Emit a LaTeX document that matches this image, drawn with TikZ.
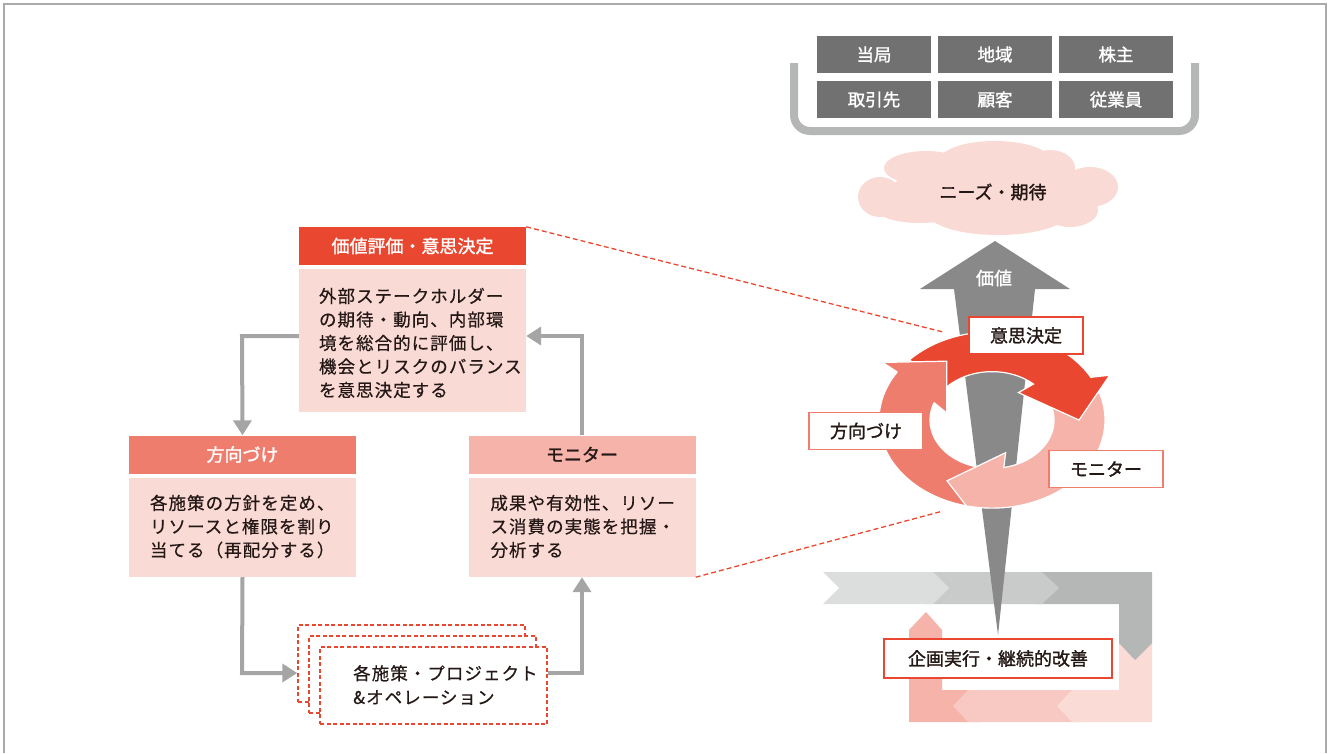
\documentclass[tikz,border=0pt]{standalone}
\usepackage{fontspec}
\setmainfont{Noto Sans CJK JP}
\newfontfamily\spacedfont[LetterSpace=6,FakeBold=0.5]{Noto Sans CJK JP}
\newfontfamily\medfont[FakeBold=1.4]{Noto Sans CJK JP}
\usetikzlibrary{arrows.meta,calc}
\definecolor{redc}{HTML}{E9472F}
\definecolor{salmonc}{HTML}{EF7D6E}
\definecolor{lpinkc}{HTML}{F6B3AA}
\definecolor{bodypink}{HTML}{FADAD5}
\definecolor{shaftgray}{HTML}{898989}
\definecolor{shgray}{HTML}{717171}
\definecolor{brgray}{HTML}{B5B6B6}
\definecolor{flowgray}{HTML}{A5A5A5}
\definecolor{framegray}{HTML}{AAAAAA}
\definecolor{textc}{HTML}{231815}
\definecolor{gA}{HTML}{DCDDDD}
\definecolor{gB}{HTML}{C9CACA}
\definecolor{gC}{HTML}{B5B6B6}
\definecolor{pA}{HTML}{FBDBD6}
\definecolor{pB}{HTML}{F8C9C3}
\definecolor{pC}{HTML}{F5B3AA}
\begin{document}
\begin{tikzpicture}[x=1pt,y=-1pt,
  shbox/.style={fill=shgray, text=white, minimum width=114pt, minimum height=37pt, inner sep=0, font=\medfont\fontsize{17.5}{20}\selectfont},
  hdr/.style={minimum width=227pt, minimum height=38pt, inner sep=0, font=\medfont\fontsize{18}{20}\selectfont},
  bodybox/.style={fill=bodypink, minimum width=227pt, inner sep=0},
  bodytext/.style={align=left, inner sep=0, text=textc, font=\spacedfont\fontsize{17.5}{23.5}\selectfont},
  lbl/.style={fill=white, line width=1.5pt, minimum width=114pt, minimum height=37pt, inner sep=0, text=textc, font=\medfont\fontsize{18}{20}\selectfont},
  flow/.style={draw=flowgray, line width=4pt, -{Triangle[width=18pt,length=15pt]}},
  reddash/.style={draw=redc, line width=1.3pt, dash pattern=on 5pt off 3pt},
  opsbox/.style={draw=redc, fill=white, line width=1.5pt, dash pattern=on 4pt off 2.5pt, minimum width=227pt, minimum height=77pt, inner sep=0}
]
\useasboundingbox (0,0) rectangle (1333,753);
% frame
\draw[framegray, line width=1.5pt] (4,753) -- (4,4) -- (1326,4) -- (1326,753);

% stakeholders
\draw[brgray, line width=8pt, rounded corners=16pt] (794,63) -- (794,131) -- (1195,131) -- (1195,63);
\node[shbox] (s1) at (874,54.5) {当局};
\node[shbox] (s2) at (995,54.5) {地域};
\node[shbox] (s3) at (1116,54.5) {株主};
\node[shbox] (s4) at (874,99.5) {取引先};
\node[shbox] (s5) at (995,99.5) {顧客};
\node[shbox] (s6) at (1116,99.5) {従業員};

% cloud
\begin{scope}[bodypink]
  \fill (990,192) ellipse[x radius=100, y radius=30];
  \fill (880,197) ellipse[x radius=22, y radius=20];
  \fill (926,168) ellipse[x radius=42, y radius=17];
  \fill (995,160) ellipse[x radius=55, y radius=19];
  \fill (1050,168) ellipse[x radius=25, y radius=18];
  \fill (1090,187) ellipse[x radius=28, y radius=20];
  \fill (920,208) ellipse[x radius=45, y radius=15];
  \fill (998,213) ellipse[x radius=70, y radius=22];
  \fill (1070,210) ellipse[x radius=28, y radius=17];
\end{scope}
\node[text=textc, inner sep=0, font=\medfont\fontsize{18}{20}\selectfont] (needs) at (993,192) {ニーズ・期待};

% bottom chevron band
\fill[pC] (909,722) -- (909,630) -- (926,612) -- (942,630) -- (942,690) -- (980,690) -- (980,722) -- cycle;
\fill[pB] (1080,690) -- (1080,722) -- (968,722) -- (953,706) -- (968,690) -- cycle;
\fill[pA] (1152,643) -- (1152,722) -- (1072,722) -- (1057,706) -- (1072,690) -- (1119,690) -- (1119,643) -- cycle;
\fill[gC] (1035,572) -- (1152,572) -- (1152,643) -- (1135,660) -- (1119,643) -- (1119,604) -- (1035,604) -- cycle;
\fill[gB] (925,572) -- (1042,572) -- (1059,588) -- (1042,604) -- (925,604) -- cycle;
\fill[gA] (823,572) -- (933,572) -- (949,588) -- (933,604) -- (823,604) -- (839,588) -- cycle;

% value arrow
\fill[shaftgray] (995,241) -- (1070,289) -- (1035,289) -- (998,635) -- (954,289) -- (920,289) -- cycle;
\node[text=white, inner sep=0, font=\medfont\fontsize{18}{20}\selectfont] (value) at (994,278) {価値};

% cycle ring
\begin{scope}[shift={(992,420)}, x={(1pt,0pt)}, y={(0pt,0.78pt)}]
  \filldraw[fill=salmonc, draw=white, line width=1.2pt]
    plot[domain=262:147, samples=50] (\x:113) -- (146:132) -- (121:88) -- (169:46) -- (159:62)
    -- plot[domain=159:262, samples=50] (\x:62) -- cycle;
  \filldraw[fill=lpinkc, draw=white, line width=1.2pt]
    plot[domain=18:-102, samples=50] (\x:113) -- (-95:134) -- (-120:90) -- (-72:44) -- (-79:62)
    -- plot[domain=-79:18, samples=50] (\x:62) -- cycle;
  \filldraw[fill=redc, draw=white, line width=1.2pt]
    plot[domain=137:29, samples=50] (\x:113) -- (26:131) -- (0:87) -- (53:44) -- (48:62)
    -- plot[domain=48:137, samples=50] (\x:62) -- cycle;
  \fill[salmonc] (147:113) -- (146:132) -- (121:88) -- (169:46) -- (159:62) -- cycle;
  \draw[white, line width=1.2pt] (147:113) -- (146:132) -- (121:88) -- (169:46) -- (159:62);
\end{scope}

\node[lbl, draw=redc] (decide) at (1026,335.5) {意思決定};
\node[lbl, draw=salmonc] (direct) at (866,431) {方向づけ};
\node[lbl, draw=salmonc] (monitor) at (1106,469) {モニター};

\node[lbl, draw=redc, minimum width=228pt, minimum height=39pt] (exec) at (998,658.5) {企画実行・継続的改善};

% left flowchart
\node[hdr, fill=redc, text=white] (vh) at (412.5,246) {価値評価・意思決定};
\node[bodybox, minimum height=143pt] (vb) at (412.5,340.5) {};
\node[bodytext, anchor=west] (vbt) at ($(vb.west)+(20,2.5)$) {外部ステークホルダー\\の期待・動向、内部環\\境を総合的に評価し、\\機会とリスクのバランス\\を意思決定する};

\node[hdr, fill=salmonc, text=white] (hh) at (242.5,454.5) {方向づけ};
\node[bodybox, minimum height=99pt] (hb) at (242.5,527.5) {};
\node[bodytext, anchor=west] (hbt) at ($(hb.west)+(21,-1)$) {各施策の方針を定め、\\リソースと権限を割り\\当てる（再配分する）};

\node[hdr, fill=lpinkc, text=textc] (mh) at (582,454.5) {モニター};
\node[bodybox, minimum height=99pt] (mb) at (582,527.5) {};
\node[bodytext, anchor=west] (mbt) at ($(mb.west)+(22,-1)$) {成果や有効性、リソー\\ス消費の実態を把握・\\分析する};

\node[opsbox] (ops3) at (411.5,663.5) {};
\node[opsbox] (ops2) at (422.5,674.5) {};
\node[opsbox] (ops) at (433.5,685.5) {};
\node[align=left, inner sep=0, text=textc, font=\spacedfont\fontsize{17.5}{24}\selectfont, anchor=west] (opst) at (353,685) {各施策・プロジェクト\\\&オペレーション};

\coordinate (c1) at (242,336);
\coordinate (c2) at (582,336);
\coordinate (c3) at (242,673);
\coordinate (c4) at (582,673);
\draw[flow] (vb.west |- c1) -- (c1) -- (hh.north);
\draw[flow] (mh.north) -- (c2) -- (vb.east |- c2);
\draw[flow] (hb.south) -- (c3) -- (ops3.west |- c3);
\draw[flow] (ops.east |- c4) -- (c4) -- (mb.south);

% dashed links
\coordinate (d1) at (943,332);
\coordinate (d2) at (943,511);
\draw[reddash] (vh.north east) -- (d1);
\draw[reddash] (mb.south east) -- (d2);
\end{tikzpicture}
\end{document}
